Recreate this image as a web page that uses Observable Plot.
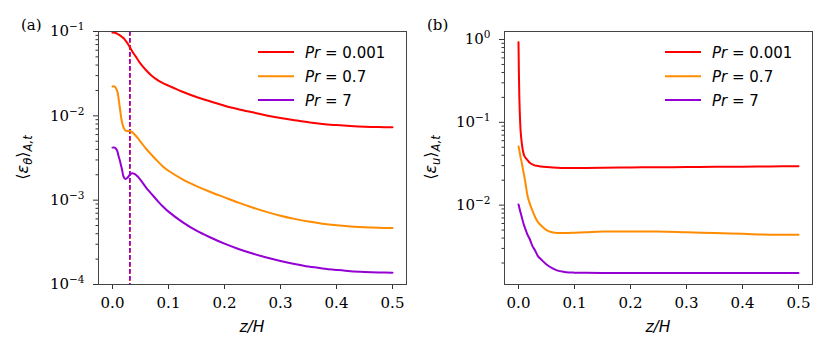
<!DOCTYPE html>
<html>
<head>
<meta charset="utf-8">
<script src="https://cdn.jsdelivr.net/npm/d3@7"></script>
<script src="https://cdn.jsdelivr.net/npm/@observablehq/plot@0.6"></script>
<style>
  html, body { margin: 0; padding: 0; background: #fff; }
  #wrap { display: flex; flex-direction: row; width: 830px; height: 356px; }
</style>
</head>
<body>
<div id="wrap"></div>
<script>
// ---------- data ----------
const seriesNames = ["Pr = 0.001", "Pr = 0.7", "Pr = 7"];
const seriesColors = ["#ff0000", "#ff8c00", "#9400d3"];
const xTicks = [0, 0.1, 0.2, 0.3, 0.4, 0.5];

// panel (a): <eps_theta>_{A,t}
const zA = [0, 0.004, 0.008, 0.011, 0.014, 0.017, 0.02, 0.023, 0.027, 0.031, 0.035, 0.04, 0.045, 0.05, 0.06, 0.07, 0.08, 0.09, 0.1,
            0.125, 0.15, 0.175, 0.2, 0.225, 0.25, 0.275, 0.3, 0.325, 0.35, 0.375, 0.4, 0.425, 0.45, 0.475, 0.5];
const epsThetaPr0001 = [0.097, 0.0965, 0.0945, 0.092, 0.0895, 0.0862, 0.0832, 0.0785, 0.0722, 0.065, 0.0585, 0.0522, 0.0466, 0.0415,
            0.0347, 0.0299, 0.0267, 0.0245, 0.0228,
            0.0193, 0.0167, 0.0148, 0.0132, 0.0120, 0.0110, 0.0101, 0.0094, 0.00885, 0.0084, 0.0080, 0.00776, 0.00757, 0.00743, 0.00735, 0.00731];
const epsThetaPr07 = [0.0223, 0.0222, 0.0200, 0.0159, 0.0112, 0.0084, 0.0072, 0.0067, 0.0066, 0.0066, 0.0064, 0.00596, 0.00547, 0.00495,
            0.00407, 0.00343, 0.00292, 0.00251, 0.00223,
            0.00177, 0.00147, 0.00125, 0.00108, 0.000935, 0.000818, 0.000726, 0.000655, 0.0006, 0.000557, 0.000526, 0.000504, 0.000488, 0.000476, 0.00047, 0.000467];
const epsThetaPr7 = [0.0042, 0.0042, 0.0039, 0.0033, 0.0028, 0.0023, 0.00188, 0.00178, 0.00185, 0.0020, 0.00209, 0.00204, 0.00191, 0.00174,
            0.00141, 0.00118, 0.00099, 0.000841, 0.000731,
            0.00055, 0.000435, 0.000361, 0.000305, 0.000264, 0.000233, 0.000209, 0.00019, 0.000175, 0.000163, 0.000155, 0.000149, 0.000144, 0.000141, 0.000139, 0.000138];
const dashX = [0.031];
const yMajorA = [1e-4, 1e-3, 1e-2, 1e-1];
const yDomainA = [1e-4, 1e-1];

// panel (b): <eps_u>_{A,t}
const zB = [0, 0.0007, 0.0015, 0.0025, 0.004, 0.006, 0.008, 0.01, 0.013, 0.016, 0.02, 0.025, 0.03, 0.035, 0.04,
            0.05, 0.06, 0.07, 0.08, 0.09, 0.1, 0.12, 0.15, 0.2, 0.25, 0.3, 0.35, 0.4, 0.45, 0.5];
const epsUPr0001 = [0.93, 0.40, 0.20, 0.12, 0.075, 0.055, 0.045, 0.040, 0.037, 0.035, 0.0325, 0.031, 0.030, 0.0297, 0.0293,
            0.0288, 0.0285, 0.0282, 0.028, 0.028, 0.028, 0.028, 0.0282, 0.0285, 0.0287, 0.0288, 0.029, 0.0291, 0.0293, 0.0295];
const epsUPr07 = [0.051, 0.049, 0.046, 0.042, 0.037, 0.032, 0.027, 0.023, 0.0175, 0.0131, 0.0105, 0.0085, 0.0071, 0.0062, 0.0057,
            0.0050, 0.0047, 0.0046, 0.0046, 0.00462, 0.00465, 0.0047, 0.0048, 0.0048, 0.0048, 0.0047, 0.0046, 0.0045, 0.0044, 0.0044];
const epsUPr7 = [0.0102, 0.0098, 0.0093, 0.0087, 0.0080, 0.0071, 0.0063, 0.0057, 0.0050, 0.0044, 0.0039, 0.0032, 0.0028, 0.0024, 0.00222,
            0.00192, 0.00174, 0.00162, 0.00157, 0.00154, 0.00153, 0.00152, 0.00151, 0.00151, 0.00151, 0.00151, 0.00151, 0.00151, 0.00151, 0.00151];
const yMajorB = [1e-2, 1e-1, 1e0];
const yDomainB = [0.0011, 1.25];

// ---------- helpers ----------
function expOf(v) { return Math.round(Math.log10(v)); }
function minorTicks(majors) {
  const out = [];
  for (const m of majors) for (let k = 2; k <= 9; k++) out.push(m * k);
  return out;
}
function makeRows(z, arrays) {
  const rows = [];
  arrays.forEach((arr, i) => arr.forEach((v, j) => rows.push({z: z[j], v, series: seriesNames[i]})));
  return rows;
}

function panel({rows, yDomain, majors, minorBase, marginLeft, marginRight, dashed, tag, ylabelSub, ylabelX, tagX, legendX}) {
  const W = 415, H = 356;
  const marks = [
    Plot.axisX({ticks: xTicks, tickFormat: d3.format(".1f"), tickSize: 5, tickPadding: 8, label: null, stroke: "#333"}),
    Plot.axisY({ticks: majors, tickFormat: v => "10^" + expOf(v), tickSize: 5, tickPadding: 9, label: null, stroke: "#333"}),
    Plot.axisY({ticks: minorTicks(minorBase), tickFormat: () => "", tickSize: 2.5, label: null, stroke: "#333"}),
  ];
  if (dashed) {
    marks.push(Plot.ruleX(dashed, {stroke: "#ff0000", strokeWidth: 1.6, strokeDasharray: "5,2"}));
    marks.push(Plot.ruleX(dashed, {stroke: "#9400d3", strokeWidth: 1.6, strokeDasharray: "4,3"}));
  }
  marks.push(Plot.line(rows, {x: "z", y: "v", z: "series", stroke: "series", strokeWidth: 2, curve: "catmull-rom"}));
  marks.push(Plot.frame({stroke: "#444", strokeWidth: 1}));
  const svg = Plot.plot({
    width: W, height: H,
    marginLeft, marginRight, marginTop: 31, marginBottom: 72,
    x: {domain: [-0.025, 0.525]},
    y: {type: "log", domain: yDomain},
    color: {domain: seriesNames, range: seriesColors},
    style: {fontFamily: "'DejaVu Serif', serif", fontSize: "15px", color: "#000", background: "#fff", overflow: "visible"},
    marks
  });
  const s = d3.select(svg);
  // rebuild y tick labels as 10 with superscript exponent
  s.selectAll("text").each(function() {
    const t = d3.select(this);
    const txt = t.text();
    if (/^10\^-?\d+$/.test(txt)) {
      const e = txt.split("^")[1].replace("-", "\u2212");
      t.text("");
      t.append("tspan").text("10");
      t.append("tspan").attr("font-size", 10.5).attr("dy", -6).text(e);
    }
  });
  // panel tag
  s.append("text").attr("x", tagX).attr("y", 30).attr("text-anchor", "start")
    .attr("font-family", "'DejaVu Serif', serif").attr("font-size", 15).text(tag);
  // x label
  const cx = marginLeft + (W - marginLeft - marginRight) / 2;
  s.append("text").attr("x", cx).attr("y", 332).attr("text-anchor", "middle")
    .attr("font-family", "'DejaVu Sans', sans-serif").attr("font-size", 15.5).attr("font-style", "italic").text("z/H");
  // y label
  const yl = s.append("text").attr("transform", `translate(${ylabelX},157.5) rotate(-90)`)
    .attr("text-anchor", "middle").attr("font-family", "'DejaVu Sans', sans-serif").attr("font-size", 16);
  yl.append("tspan").text("\u27E8");
  yl.append("tspan").attr("font-style", "italic").text("\u03B5");
  yl.append("tspan").attr("font-style", "italic").attr("font-size", 11.5).attr("dy", 4).text(ylabelSub);
  yl.append("tspan").attr("dy", -4).text("\u27E9");
  yl.append("tspan").attr("font-style", "italic").attr("font-size", 11.5).attr("dy", 4).text("A,t");
  // legend
  const ly = [52, 76.3, 100];
  seriesNames.forEach((name, i) => {
    s.append("line").attr("x1", legendX).attr("x2", legendX + 36).attr("y1", ly[i]).attr("y2", ly[i])
      .attr("stroke", seriesColors[i]).attr("stroke-width", 2);
    const t = s.append("text").attr("x", legendX + 47).attr("y", ly[i] + 5.5).attr("text-anchor", "start")
      .attr("font-family", "'DejaVu Sans', sans-serif").attr("font-size", 15);
    t.append("tspan").attr("font-style", "italic").text("Pr");
    t.append("tspan").text(name.slice(2));
  });
  return svg;
}

const wrap = document.getElementById("wrap");
wrap.appendChild(panel({
  rows: makeRows(zA, [epsThetaPr0001, epsThetaPr07, epsThetaPr7]),
  yDomain: yDomainA, majors: yMajorA, minorBase: [1e-4, 1e-3, 1e-2],
  marginLeft: 98, marginRight: 9, dashed: dashX, tag: "(a)", ylabelSub: "\u03B8", ylabelX: 28, tagX: 21, legendX: 258
}));
wrap.appendChild(panel({
  rows: makeRows(zB, [epsUPr0001, epsUPr07, epsUPr7]),
  yDomain: yDomainB, majors: yMajorB, minorBase: [1e-3, 1e-2, 1e-1],
  marginLeft: 89, marginRight: 18, dashed: null, tag: "(b)", ylabelSub: "u", ylabelX: 21, tagX: 12, legendX: 250
}));
</script>
</body>
</html>
